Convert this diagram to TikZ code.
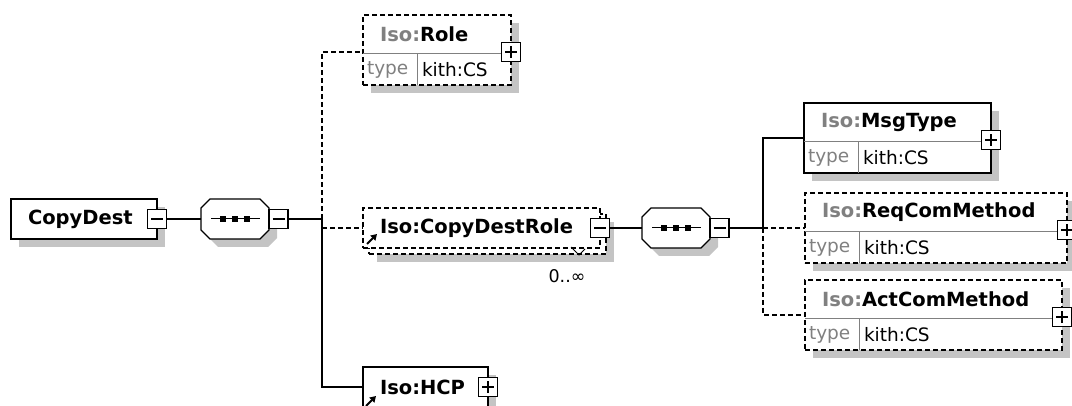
\documentclass[tikz,border=0pt]{standalone}
\usepackage{fontspec}
\setmainfont{DejaVu Sans}
\usetikzlibrary{shadows,arrows.meta}
\definecolor{shadowgray}{HTML}{C4C4C4}
\definecolor{midgray}{HTML}{808080}

\begin{document}
\begin{tikzpicture}[
        x=1pt, y=-1pt,
        every node/.style={inner sep=0pt, outer sep=0pt},
        conn/.style={line width=1.2pt},
        opt/.style={dash pattern=on 5pt off 3pt},
        elbox/.style={draw, rectangle, fill=white, line width=1.2pt, anchor=north west},
        shadowed/.style={drop shadow={shadow xshift=8pt, shadow yshift=-8pt, fill=shadowgray, draw=none, opacity=1}},
        seqnode/.style={minimum width=68pt, minimum height=40pt},
        pm/.style={draw, rectangle, fill=white, line width=1.2pt, minimum size=19pt},
        minus/.style={pm, path picture={\draw[line width=1.2pt] ([xshift=3.5pt]path picture bounding box.west) -- ([xshift=-3.5pt]path picture bounding box.east);}},
        plus/.style={pm, path picture={\draw[line width=1.2pt] ([xshift=3.5pt]path picture bounding box.west) -- ([xshift=-3.5pt]path picture bounding box.east) ([yshift=3.5pt]path picture bounding box.south) -- ([yshift=-3.5pt]path picture bounding box.north);}},
        ttl/.style={anchor=west, font=\fontsize{19.5}{20}\selectfont\bfseries},
        txt/.style={anchor=west, font=\fontsize{18.5}{19}\selectfont},
        divline/.style={draw=midgray, line width=1pt},
        refarrow/.style={line width=2pt, -{Triangle[length=6pt, width=7pt]}},
    ]
    \useasboundingbox (0,0) rectangle (1072,406);

    % root element
    \node[elbox, shadowed, minimum width=146pt, minimum height=40pt] (copydest) at (11,199) {};
    \node[ttl] (copydest-t) at ([xshift=17pt]copydest.west) {CopyDest};
    \node[minus] (copydest-m) at (copydest.east) {};

    % sequence compositors
    \node[seqnode] (seq1) at (235,219) {};
    \node[seqnode] (seq2) at (676,228) {};
    \foreach \s in {seq1,seq2}{
        \fill[shadowgray] (\s.center) ++(-17,-12) -- ++(50,0) -- ++(9,9) -- ++(0,22) -- ++(-9,9) -- ++(-50,0) -- ++(-9,-9) -- ++(0,-22) -- cycle;
        \draw[conn, fill=white] (\s.center) ++(-25,-20) -- ++(50,0) -- ++(9,9) -- ++(0,22) -- ++(-9,9) -- ++(-50,0) -- ++(-9,-9) -- ++(0,-22) -- cycle;
        \draw[line width=1pt] (\s.center) ++(-24,0) -- ++(49,0);
        \foreach \d in {-12,0,12} \fill (\s.center) ++(\d,0) ++(-2.8,-2.8) rectangle ++(5.6,5.6);
    }
    \node[minus, anchor=west] (seq1-m) at (seq1.east) {};
    \node[minus, anchor=west] (seq2-m) at (seq2.east) {};

    % children of the first sequence
    \node[elbox, opt, shadowed, minimum width=148pt, minimum height=70pt] (role) at (363,15) {};
    \node[ttl] (role-t) at ([xshift=17pt, yshift=-19.5pt]role.north west) {\textcolor{midgray}{Iso:}Role};

    \node[elbox, opt, shadowed, minimum width=237pt, minimum height=40pt] (cdrole-b) at (369,214) {};
    \node[elbox, opt, minimum width=237pt, minimum height=40pt] (cdrole) at (363,208) {};
    \node[ttl] (cdrole-t) at ([xshift=17pt]cdrole.west) {Iso:CopyDestRole};
    \node[minus] (cdrole-m) at (cdrole.east) {};
    \draw[refarrow] ([shift={(4pt,4pt)}]cdrole.south west) -- ++(10,-10);
    \node[txt, anchor=center, font=\fontsize{17.5}{18}\selectfont] (cdrole-n) at (567,276) {0..∞};
    \draw[line width=1pt] (571,247) -- (579,255) -- (585,249);

    \node[elbox, shadowed, minimum width=125pt, minimum height=40pt] (hcp) at (363,367) {};
    \node[ttl] (hcp-t) at ([xshift=17pt]hcp.west) {Iso:HCP};
    \node[plus] (hcp-p) at (hcp.east) {};
    \draw[refarrow] ([shift={(3pt,1pt)}]hcp.south west) -- ++(10,-10);

    % children of the second sequence
    \node[elbox, shadowed, minimum width=187pt, minimum height=70pt] (msgtype) at (804,103) {};
    \node[ttl] (msgtype-t) at ([xshift=17pt, yshift=-19.5pt]msgtype.north west) {\textcolor{midgray}{Iso:}MsgType};
    \node[elbox, opt, shadowed, minimum width=262pt, minimum height=70pt] (reqcom) at (805,193) {};
    \node[ttl] (reqcom-t) at ([xshift=17pt, yshift=-19.5pt]reqcom.north west) {\textcolor{midgray}{Iso:}ReqComMethod};
    \node[elbox, opt, shadowed, minimum width=257pt, minimum height=70pt] (actcom) at (805,280) {};
    \node[ttl] (actcom-t) at ([xshift=17pt, yshift=-19.5pt]actcom.north west) {\textcolor{midgray}{Iso:}ActComMethod};

    \foreach \b in {role,msgtype,reqcom,actcom}{
        \draw[divline] ([yshift=-39pt]\b.north west) -- ([yshift=-39pt]\b.north east);
        \draw[divline] ([xshift=54pt, yshift=-39pt]\b.north west) -- ([xshift=54pt]\b.south west);
        \node[txt, text=midgray] (\b-k) at ([xshift=4pt, yshift=15.5pt]\b.south west) {type};
        \node[txt] (\b-v) at ([xshift=59pt, yshift=15.5pt]\b.south west) {kith:CS};
        \node[plus] (\b-p) at ([yshift=-2pt]\b.east) {};
    }

    % connectors
    \coordinate (j1) at (322,219);
    \coordinate (j2) at (763,228);
    \draw[conn] (copydest-m) -- (seq1);
    \draw[conn] (seq1-m) -- (j1);
    \draw[conn, opt] (j1) |- ([yshift=-2pt]role.west);
    \draw[conn, opt] (j1 |- cdrole.west) -- (cdrole.west);
    \draw[conn] (j1) |- (hcp.west);
    \draw[conn] (cdrole-m) -- (seq2);
    \draw[conn] (seq2-m) -- (j2);
    \draw[conn] (j2) |- (msgtype.west);
    \draw[conn, opt] (j2) -- (reqcom.west);
    \draw[conn, opt] (j2) |- (actcom.west);
\end{tikzpicture}
\end{document}
